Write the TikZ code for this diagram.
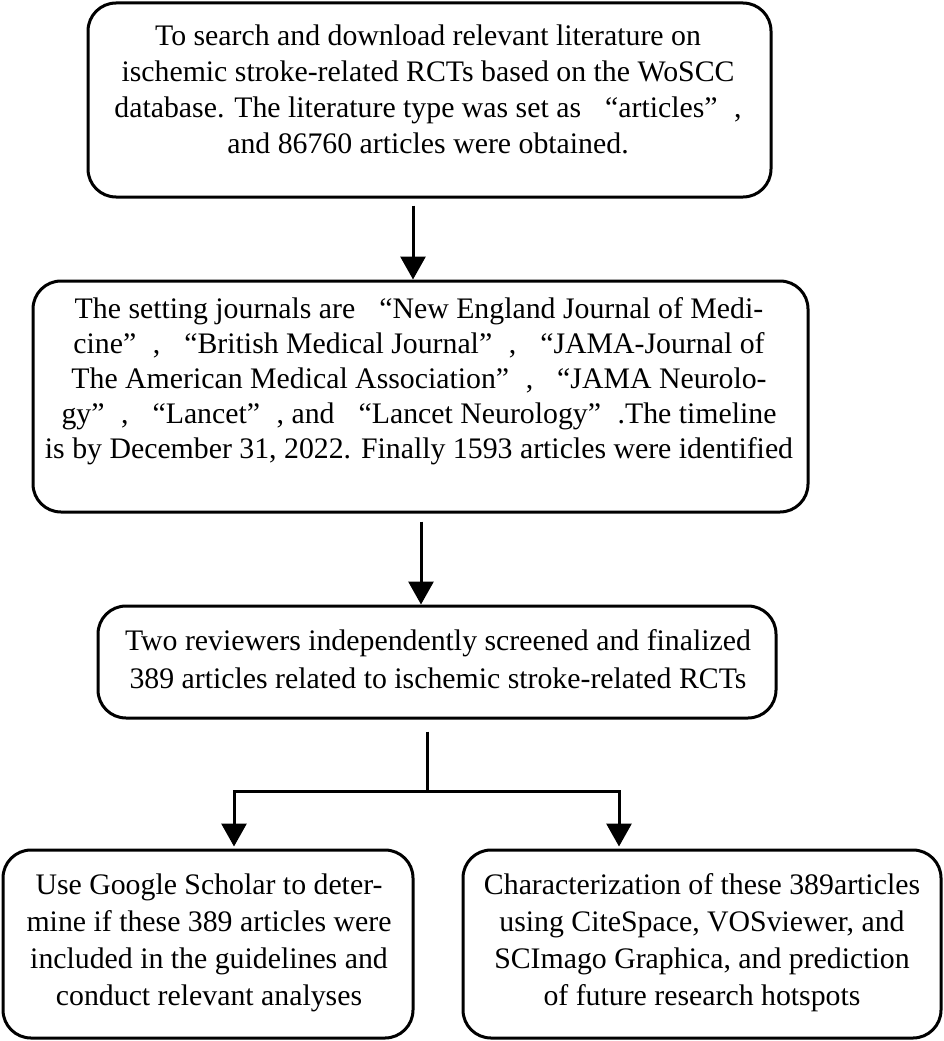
\documentclass[tikz,border=0pt]{standalone}
\usepackage{fontspec}
\setmainfont{Liberation Serif}
\usetikzlibrary{arrows.meta,calc}
\newcommand{\myoq}{\makebox[1em][r]{“}}
\newcommand{\mycq}{\makebox[1em][l]{”}}
\begin{document}
\begin{tikzpicture}[x=1pt,y=-1pt,
  box/.style={draw=black,line width=3pt,rounded corners=28pt,rectangle,inner sep=0pt},
  txt/.style={align=center,inner sep=0pt,anchor=base,font=\fontsize{29.8}{36}\selectfont},
  conn/.style={draw=black,line width=3pt},
  arr/.style={conn,-{Triangle[width=25pt,length=23pt]}}]
\useasboundingbox (0,0) rectangle (944,1041);
% boxes
\node[box,minimum width=683pt,minimum height=194pt] (b1) at (429.5,100) {};
\node[box,minimum width=775pt,minimum height=231pt] (b2) at (420.5,396.5) {};
\node[box,minimum width=678pt,minimum height=112pt] (b3) at (437,662) {};
\node[box,minimum width=410pt,minimum height=188pt] (b4) at (208,944) {};
\node[box,minimum width=478pt,minimum height=188pt] (b5) at (702,944) {};
% texts (anchor base = baseline of the last line)
\node[txt] (t1) at (428,153) {To search and download relevant literature on\\
ischemic stroke-related RCTs based on the WoSCC\\
database. The literature type was set as \myoq articles\mycq,\\
and 86760 articles were obtained.};
\node[txt,font=\fontsize{29.8}{35}\selectfont] (t2) at (419,458) {The setting journals are \myoq New England Journal of Medi-\\
cine\mycq, \myoq British Medical Journal\mycq, \myoq JAMA-Journal of\\
The American Medical Association\mycq, \myoq JAMA Neurolo-\\
gy\mycq, \myoq Lancet\mycq, and \myoq Lancet Neurology\mycq.The timeline\\
is by December 31, 2022. Finally 1593 articles were identified};
\node[txt,font=\fontsize{29.8}{38}\selectfont] (t3) at (438,688) {Two reviewers independently screened and finalized\\
389 articles related to ischemic stroke-related RCTs};
\node[txt,font=\fontsize{29.8}{36.7}\selectfont] (t4) at (209,1005) {Use Google Scholar to deter-\\
mine if these 389 articles were\\
included in the guidelines and\\
conduct relevant analyses};
\node[txt,font=\fontsize{29.8}{36.7}\selectfont] (t5) at (702,1005) {Characterization of these 389articles\\
using CiteSpace, VOSviewer, and\\
SCImago Graphica, and prediction\\
of future research hotspots};
% connectors
\draw[arr] ($(b1.south)+(-16.5,7)$) -- ($(b2.north)+(-7.5,0)$);
\draw[arr] ($(b2.south)+(0.5,8)$) -- ($(b3.north)+(-16,0)$);
\coordinate (sp) at ($(b3.south)+(-10,72)$);
\draw[conn] ($(b3.south)+(-10,12)$) -- (sp);
\draw[arr] (sp) -| ($(b4.north)+(26,-2)$);
\draw[arr] (sp) -| ($(b5.north)+(-83,-2)$);
\end{tikzpicture}
\end{document}
